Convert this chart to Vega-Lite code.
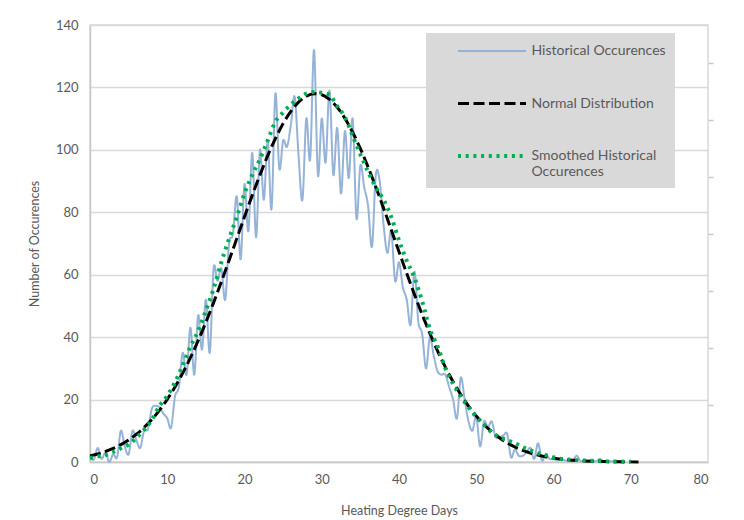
{
  "$schema": "https://vega.github.io/schema/vega-lite/v6.json",
  "width": 618,
  "height": 437,
  "autosize": "none",
  "padding": {"left": 90, "top": 25, "right": 36, "bottom": 58},
  "background": "white",
  "config": {
    "font": "Lato",
    "view": {"stroke": "#d9d9d9", "strokeWidth": 1.5},
    "axis": {
      "labelColor": "#595959",
      "titleColor": "#595959",
      "labelFontSize": 13,
      "titleFontSize": 12.5,
      "titleFontWeight": "normal",
      "ticks": false,
      "gridColor": "#d9d9d9",
      "gridWidth": 1.5,
      "domainColor": "#c8c8c8",
      "domainWidth": 1.5
    }
  },
  "layer": [
    {
      "layer": [
        {
          "data": {"values": [
            {"x":0,"y":1.5},{"x":0.5,"y":0.8},{"x":1,"y":4.5},{"x":1.5,"y":1},{"x":2,"y":3},{"x":2.5,"y":0},{"x":3,"y":2.5},{"x":3.5,"y":1.5},
            {"x":4,"y":10},{"x":4.5,"y":5},{"x":5,"y":2.5},{"x":5.5,"y":10},{"x":6,"y":7},{"x":6.5,"y":4.5},{"x":7,"y":10},{"x":7.5,"y":10.5},
            {"x":8,"y":17},{"x":8.5,"y":18},{"x":9,"y":17.5},{"x":9.5,"y":15.5},{"x":10,"y":14},{"x":10.5,"y":11},{"x":11,"y":21},{"x":11.5,"y":24},
            {"x":12,"y":35},{"x":12.5,"y":28},{"x":13,"y":43},{"x":13.5,"y":28},{"x":14,"y":47},{"x":14.5,"y":36},{"x":15,"y":52},{"x":15.5,"y":35},
            {"x":16,"y":62},{"x":16.5,"y":58},{"x":17,"y":62},{"x":17.5,"y":52},{"x":18,"y":70},{"x":18.5,"y":73},{"x":19,"y":85},{"x":19.5,"y":65},
            {"x":20,"y":89},{"x":20.5,"y":74},{"x":21,"y":99},{"x":21.5,"y":72},{"x":22,"y":100},{"x":22.5,"y":84},{"x":23,"y":103},{"x":23.5,"y":81},
            {"x":24,"y":118},{"x":24.5,"y":94},{"x":25,"y":103},{"x":25.5,"y":101},{"x":26,"y":108},{"x":26.5,"y":117},{"x":27,"y":98},{"x":27.5,"y":84},
            {"x":28,"y":110},{"x":28.5,"y":97},{"x":29,"y":132},{"x":29.5,"y":92},{"x":30,"y":110},{"x":30.5,"y":96},{"x":31,"y":119},{"x":31.5,"y":92},
            {"x":32,"y":107},{"x":32.5,"y":86},{"x":33,"y":106},{"x":33.5,"y":91},{"x":34,"y":110},{"x":34.5,"y":78},{"x":35,"y":95},{"x":35.5,"y":88},
            {"x":36,"y":82},{"x":36.5,"y":69},{"x":37,"y":92},{"x":37.5,"y":90},{"x":38,"y":76},{"x":38.5,"y":67},{"x":39,"y":74},{"x":39.5,"y":58},
            {"x":40,"y":64},{"x":40.5,"y":56},{"x":41,"y":52},{"x":41.5,"y":44},{"x":42,"y":61},{"x":42.5,"y":45},{"x":43,"y":41},{"x":43.5,"y":30},
            {"x":44,"y":40},{"x":44.5,"y":34},{"x":45,"y":29},{"x":45.5,"y":28},{"x":46,"y":28},{"x":46.5,"y":24},{"x":47,"y":20},{"x":47.5,"y":14},
            {"x":48,"y":27},{"x":48.5,"y":20},{"x":49,"y":13},{"x":49.5,"y":10},{"x":50,"y":14.5},{"x":50.5,"y":5},{"x":51,"y":13},{"x":51.5,"y":11},
            {"x":52,"y":13},{"x":52.5,"y":8},{"x":53,"y":8},{"x":53.5,"y":8.5},{"x":54,"y":9},{"x":54.5,"y":1.5},{"x":55,"y":4},{"x":55.5,"y":2},
            {"x":56,"y":2},{"x":56.5,"y":3},{"x":57,"y":4.5},{"x":57.5,"y":1},{"x":58,"y":6},{"x":58.5,"y":0.5},{"x":59,"y":2.5},{"x":59.5,"y":1},
            {"x":60,"y":1},{"x":60.5,"y":0.5},{"x":61,"y":1},{"x":61.5,"y":0.5},{"x":62,"y":0.5},{"x":62.5,"y":0.5},{"x":63,"y":2},{"x":63.5,"y":0.3},
            {"x":64,"y":0.5},{"x":64.5,"y":0.3},{"x":65,"y":0.5},{"x":65.5,"y":0.2},{"x":66,"y":1},{"x":66.5,"y":0.2},{"x":67,"y":0.3},{"x":67.5,"y":0.2},
            {"x":68,"y":0.3},{"x":68.5,"y":0.2},{"x":69,"y":0.5}
          ]},
          "mark": {"type": "line", "interpolate": "cardinal", "strokeJoin": "round"},
          "encoding": {
            "x": {"field": "x", "type": "quantitative", "scale": {"domain": [0, 80], "nice": false},
                  "axis": {"values": [0,10,20,30,40,50,60,70,80], "grid": false, "title": "Heating Degree Days", "labelPadding": 11, "titlePadding": 18}},
            "y": {"field": "y", "type": "quantitative", "scale": {"domain": [0, 140], "nice": false},
                  "axis": {"values": [0,20,40,60,80,100,120,140], "grid": true, "domain": true, "title": "Number of Occurences", "labelPadding": 12, "titlePadding": 14}},
            "color": {"datum": "Historical Occurences", "type": "nominal",
                      "scale": {"domain": ["Historical Occurences", "Normal Distribution", "Smoothed Historical Occurences"], "range": ["#95b3d7", "#000000", "#00b050"]},
                      "legend": {"title": null, "orient": "none", "legendX": 336, "legendY": 8, "fillColor": "#d9d9d9", "padding": 8.5,
                                 "symbolType": "M-4,0H4", "symbolSize": 289, "symbolOffset": 47, "labelOffset": 29, "rowPadding": 35,
                                 "labelFontSize": 14, "labelColor": "#595959", "labelLimit": 300,
                                 "labelExpr": "datum.label == 'Smoothed Historical Occurences' ? ['Smoothed Historical', 'Occurences'] : datum.label"}},
            "strokeDash": {"datum": "Historical Occurences", "type": "nominal",
                           "scale": {"domain": ["Historical Occurences", "Normal Distribution", "Smoothed Historical Occurences"], "range": [[1, 0], [11, 4.5], [3, 4.7]]}},
            "strokeWidth": {"datum": "Historical Occurences", "type": "ordinal",
                            "scale": {"domain": ["Historical Occurences", "Normal Distribution", "Smoothed Historical Occurences"], "range": [2, 4, 3]}}
          }
        },
        {
          "data": {"values": [
            {"x":0,"y":1.96},{"x":1,"y":2.58},{"x":2,"y":3.37},{"x":3,"y":4.36},{"x":4,"y":5.58},{"x":5,"y":7.07},{"x":6,"y":8.88},{"x":7,"y":11.05},
            {"x":8,"y":13.61},{"x":9,"y":16.6},{"x":10,"y":20.07},{"x":11,"y":24.02},{"x":12,"y":28.47},{"x":13,"y":33.43},{"x":14,"y":38.88},{"x":15,"y":44.77},
            {"x":16,"y":51.07},{"x":17,"y":57.71},{"x":18,"y":64.58},{"x":19,"y":71.57},{"x":20,"y":78.56},{"x":21,"y":85.42},{"x":22,"y":91.98},{"x":23,"y":98.1},
            {"x":24,"y":103.62},{"x":25,"y":108.41},{"x":26,"y":112.33},{"x":27,"y":115.29},{"x":28,"y":117.19},{"x":29,"y":117.98},{"x":30,"y":117.64},{"x":31,"y":116.18},
            {"x":32,"y":113.64},{"x":33,"y":110.09},{"x":34,"y":105.63},{"x":35,"y":100.38},{"x":36,"y":94.49},{"x":37,"y":88.09},{"x":38,"y":81.33},{"x":39,"y":74.38},
            {"x":40,"y":67.37},{"x":41,"y":60.43},{"x":42,"y":53.69},{"x":43,"y":47.25},{"x":44,"y":41.18},{"x":45,"y":35.55},{"x":46,"y":30.39},{"x":47,"y":25.74},
            {"x":48,"y":21.59},{"x":49,"y":17.93},{"x":50,"y":14.76},{"x":51,"y":12.02},{"x":52,"y":9.71},{"x":53,"y":7.75},{"x":54,"y":6.14},{"x":55,"y":4.81},
            {"x":56,"y":3.74},{"x":57,"y":2.88},{"x":58,"y":2.19},{"x":59,"y":1.65},{"x":60,"y":1.24},{"x":61,"y":0.91},{"x":62,"y":0.67},{"x":63,"y":0.49},
            {"x":64,"y":0.35},{"x":65,"y":0.25},{"x":66,"y":0.17},{"x":67,"y":0.12},{"x":68,"y":0.08},{"x":69,"y":0.06},{"x":70,"y":0.04},{"x":71,"y":0.03}
          ]},
          "mark": {"type": "line", "interpolate": "monotone"},
          "encoding": {
            "x": {"field": "x", "type": "quantitative"},
            "y": {"field": "y", "type": "quantitative"},
            "color": {"datum": "Normal Distribution", "type": "nominal"},
            "strokeDash": {"datum": "Normal Distribution", "type": "nominal"},
            "strokeWidth": {"datum": "Normal Distribution", "type": "ordinal"}
          }
        }
      ]
    },
    {
      "data": {"values": [
        {"x":0,"y":1.2},{"x":1,"y":1.8},{"x":2,"y":2.2},{"x":3,"y":3.2},{"x":4,"y":4.4},{"x":5,"y":5.6},{"x":6,"y":7.7},{"x":7,"y":10.3},
        {"x":8,"y":13.5},{"x":9,"y":18},{"x":10,"y":21.2},{"x":11,"y":25.5},{"x":12,"y":31},{"x":13,"y":37},{"x":14,"y":42},{"x":15,"y":48.5},
        {"x":16,"y":55.5},{"x":17,"y":64},{"x":18,"y":71.5},{"x":19,"y":78.5},{"x":20,"y":86},{"x":21,"y":92},{"x":22,"y":97},{"x":23,"y":103},
        {"x":24,"y":109},{"x":25,"y":112},{"x":26,"y":114.5},{"x":27,"y":116.5},{"x":28,"y":118},{"x":29,"y":118.5},{"x":30,"y":118.3},{"x":31,"y":117.6},
        {"x":32,"y":114},{"x":33,"y":110.5},{"x":34,"y":104.5},{"x":35,"y":98.5},{"x":36,"y":93},{"x":37,"y":88},{"x":38,"y":84},{"x":39,"y":78.5},
        {"x":40,"y":71},{"x":41,"y":64.5},{"x":42,"y":59},{"x":43,"y":51.5},{"x":44,"y":42.5},{"x":45,"y":37},{"x":46,"y":30},{"x":47,"y":25},
        {"x":48,"y":21},{"x":49,"y":17.5},{"x":50,"y":14.5},{"x":51,"y":12},{"x":52,"y":9.5},{"x":53,"y":8},{"x":54,"y":7},{"x":55,"y":6},
        {"x":56,"y":4.8},{"x":57,"y":3.8},{"x":58,"y":2.8},{"x":59,"y":2.2},{"x":60,"y":1.5},{"x":61,"y":1},{"x":62,"y":0.8},{"x":63,"y":0.6},
        {"x":64,"y":0.5},{"x":65,"y":0.4},{"x":66,"y":0.3},{"x":67,"y":0.2},{"x":68,"y":0.2},{"x":69,"y":0.1},{"x":70,"y":0.1}
      ]},
      "mark": {"type": "line", "interpolate": "monotone"},
      "encoding": {
        "x": {"field": "x", "type": "quantitative"},
        "y": {"field": "y", "type": "quantitative", "scale": {"domain": [0, 140], "nice": false},
              "axis": {"orient": "right", "values": [18.26,36.53,54.79,73.05,91.32,109.58,127.85], "labels": false, "ticks": true, "tickSize": 5, "tickColor": "#c8c8c8", "tickWidth": 1.5, "domain": false, "grid": false, "title": null}},
        "color": {"datum": "Smoothed Historical Occurences", "type": "nominal"},
        "strokeDash": {"datum": "Smoothed Historical Occurences", "type": "nominal"},
        "strokeWidth": {"datum": "Smoothed Historical Occurences", "type": "ordinal"}
      }
    }
  ],
  "resolve": {"scale": {"y": "independent"}}
}
